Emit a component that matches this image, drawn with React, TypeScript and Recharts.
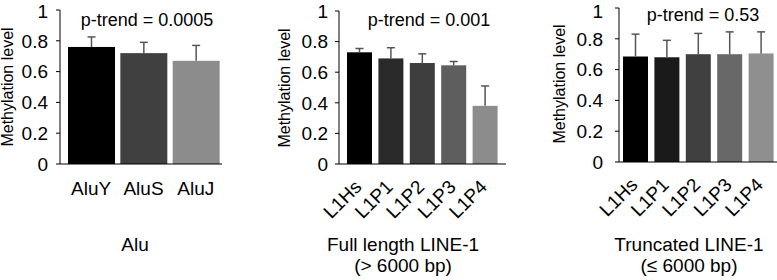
import { BarChart, Bar, XAxis, YAxis, Cell, Customized } from "recharts"

const FONT = "'Liberation Sans', Arial, Helvetica, sans-serif"

const yTicks = [0, 0.2, 0.4, 0.6, 0.8, 1]

const aluNames = ["AluY", "AluS", "AluJ"]
const aluValues = [0.76, 0.72, 0.67]
const aluErrors = [0.065, 0.07, 0.1]
const aluColors = ["#000000", "#404040", "#8c8c8c"]

const l1Names = ["L1Hs", "L1P1", "L1P2", "L1P3", "L1P4"]

const fullValues = [0.73, 0.69, 0.66, 0.645, 0.38]
const fullErrors = [0.025, 0.07, 0.06, 0.025, 0.13]
const fullColors = ["#000000", "#2a2a2a", "#3e3e3e", "#5e5e5e", "#8c8c8c"]

const truncValues = [0.685, 0.68, 0.7, 0.7, 0.705]
const truncErrors = [0.145, 0.11, 0.135, 0.145, 0.14]
const truncColors = ["#000000", "#1a1a1a", "#404040", "#686868", "#8f8f8f"]

type Row = { name: string; value: number; err: number }

function buildRows(names: string[], values: number[], errors: number[]): Row[] {
  return names.map((name, i) => ({ name, value: values[i], err: errors[i] }))
}

// bar + upper-only error whisker; whisker length uses the bar's own px-per-unit
function BarWithError(props: any) {
  const { x, y, width, height, fill, payload } = props
  const pxPerUnit = payload.value ? height / payload.value : 0
  const top = y - payload.err * pxPerUnit
  const cx = x + width / 2
  return (
    <g>
      <rect x={x} y={y} width={width} height={height} fill={fill} />
      <line x1={cx} x2={cx} y1={y} y2={top} stroke="#555" strokeWidth={1.5} />
      <line x1={cx - 4} x2={cx + 4} y1={top} y2={top} stroke="#555" strokeWidth={1.5} />
    </g>
  )
}

type TickProps = { x?: number; y?: number; payload?: { value: string }; rotated?: boolean }

function CategoryTick({ x = 0, y = 0, payload, rotated }: TickProps) {
  if (rotated) {
    const tx = x + 3
    const ty = y + 24
    return (
      <text
        x={tx}
        y={ty}
        transform={`rotate(-45 ${tx} ${ty})`}
        textAnchor="end"
        fontSize={19}
        fontFamily={FONT}
        fill="#000"
      >
        {payload?.value}
      </text>
    )
  }
  return (
    <text x={x} y={y + 31} textAnchor="middle" fontSize={19} fontFamily={FONT} fill="#000">
      {payload?.value}
    </text>
  )
}

type PanelProps = {
  rows: Row[]
  colors: string[]
  left: number
  width: number
  yAxisWidth: number
  top: number
  bottom: number
  right: number
  padLeft: number
  padRight: number
  barSize: number
  rotated: boolean
  yTickMargin: number
  pText: string
  pX: number
  pY: number
  titleLines: string[]
  titleX: number
  ylabelX: number
  ylabelY: number
}

function Panel(p: PanelProps) {
  return (
    <div style={{ position: "absolute", left: p.left, top: 0 }}>
      <BarChart
        width={p.width}
        height={280}
        data={p.rows}
        margin={{ top: p.top, right: p.right, left: 0, bottom: p.bottom }}
      >
        <YAxis
          width={p.yAxisWidth}
          domain={[0, 1]}
          ticks={yTicks}
          tickSize={4}
          tickMargin={p.yTickMargin}
          axisLine={{ stroke: "#000", strokeWidth: 1 }}
          tickLine={{ stroke: "#000", strokeWidth: 1 }}
          tick={{ fontSize: 19, fill: "#000", fontFamily: FONT }}
        />
        <XAxis
          dataKey="name"
          height={30}
          tickSize={0}
          tickMargin={0}
          tickLine={false}
          interval={0}
          padding={{ left: p.padLeft, right: p.padRight }}
          axisLine={{ stroke: "#000", strokeWidth: 1 }}
          tick={(t: TickProps) => <CategoryTick {...t} rotated={p.rotated} />}
        />
        <Bar dataKey="value" barSize={p.barSize} isAnimationActive={false} shape={BarWithError}>
          {p.rows.map((r, i) => (
            <Cell key={r.name} fill={p.colors[i]} />
          ))}
        </Bar>
        <Customized
          component={() => (
            <g fontFamily={FONT} fill="#000">
              <text x={p.pX} y={p.pY} textAnchor="middle" fontSize={18}>
                {p.pText}
              </text>
              {p.titleLines.map((line, i) => (
                <text key={line} x={p.titleX} y={251 + i * 21} textAnchor="middle" fontSize={19}>
                  {line}
                </text>
              ))}
              <text
                x={p.ylabelX}
                y={p.ylabelY}
                transform={`rotate(-90 ${p.ylabelX} ${p.ylabelY})`}
                textAnchor="middle"
                fontSize={16}
              >
                Methylation level
              </text>
            </g>
          )}
        />
      </BarChart>
    </div>
  )
}

export default function App() {
  return (
    <div style={{ position: "absolute", left: 0, top: 0, width: 777, height: 280, background: "#fff", overflow: "hidden" }}>
      <Panel
        rows={buildRows(aluNames, aluValues, aluErrors)}
        colors={aluColors}
        left={0}
        width={230}
        yAxisWidth={60}
        top={10}
        bottom={86}
        right={8}
        padLeft={5}
        padRight={0}
        barSize={47}
        rotated={false}
        yTickMargin={8}
        pText="p-trend = 0.0005"
        pX={147}
        pY={26}
        titleLines={["Alu"]}
        titleX={135}
        ylabelX={13}
        ylabelY={87}
      />
      <Panel
        rows={buildRows(l1Names, fullValues, fullErrors)}
        colors={fullColors}
        left={260}
        width={260}
        yAxisWidth={79}
        top={11}
        bottom={86}
        right={14}
        padLeft={5}
        padRight={5}
        barSize={25}
        rotated={true}
        yTickMargin={7}
        pText="p-trend = 0.001"
        pX={169}
        pY={26}
        titleLines={["Full length LINE-1", "(> 6000 bp)"]}
        titleX={143}
        ylabelX={30}
        ylabelY={88}
      />
      <Panel
        rows={buildRows(l1Names, truncValues, truncErrors)}
        colors={truncColors}
        left={520}
        width={257}
        yAxisWidth={99}
        top={8}
        bottom={88}
        right={0}
        padLeft={1}
        padRight={0}
        barSize={25}
        rotated={true}
        yTickMargin={12}
        pText="p-trend = 0.53"
        pX={183}
        pY={21}
        titleLines={["Truncated LINE-1", "(≤ 6000 bp)"]}
        titleX={169}
        ylabelX={45}
        ylabelY={84}
      />
    </div>
  )
}
